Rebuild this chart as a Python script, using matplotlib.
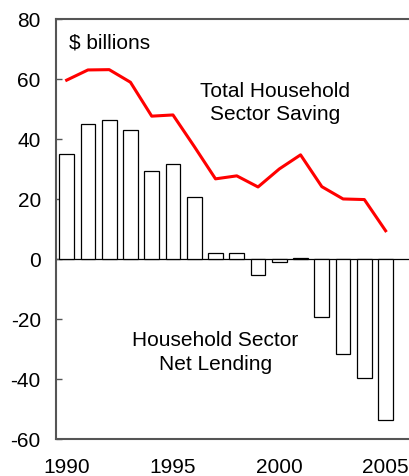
import numpy as np
import matplotlib
matplotlib.use("Agg")
import matplotlib.pyplot as plt

plt.rcParams["font.family"] = ["Liberation Sans", "DejaVu Sans"]
plt.rcParams["axes.unicode_minus"] = False

years = list(range(1990, 2006))
net_lending = [35.0, 45.0, 46.4, 43.1, 29.3, 31.7, 20.6, 1.9, 2.1, -5.3, -1.1, 0.3,
               -19.2, -31.7, -39.8, -53.6]
total_saving = [59.6, 63.0, 63.1, 58.9, 47.6, 48.0, 37.5, 26.7, 27.7, 24.0, 30.0, 34.7,
                24.1, 20.0, 19.8, 9.4]
y_ticks = [-60, -40, -20, 0, 20, 40, 60, 80]
x_ticks = [1990, 1995, 2000, 2005]

fig = plt.figure(figsize=(4.09, 4.77), dpi=100)
ax = fig.add_axes([0.137, 0.0776, 0.863, 0.8806])

ax.bar(years, net_lending, width=0.69, facecolor="white", edgecolor="black", linewidth=0.9, zorder=2)
ax.plot(years, total_saving, color="#ff0000", linewidth=2.2, zorder=3)
ax.axhline(0, color="black", linewidth=0.9, zorder=1)

ax.set_xlim(1989.5, 2006.1)
ax.set_ylim(-60, 80)
ax.set_yticks(y_ticks)
ax.set_xticks(x_ticks)
ax.tick_params(axis="y", direction="in", length=4, width=1, labelsize=15, pad=11, color="#555555")
ax.tick_params(axis="x", length=0, labelsize=15, pad=13)

for side in ["left", "top", "bottom"]:
    ax.spines[side].set_color("#555555")
    ax.spines[side].set_linewidth(1.5)
ax.spines["right"].set_visible(False)

ax.text(1990.1, 72.3, "$ billions", fontsize=15, ha="left", va="center")
ax.text(1999.8, 52.3, "Total Household\nSector Saving", fontsize=15, ha="center", va="center",
        linespacing=1.3)
ax.text(1997.0, -30.8, "Household Sector\nNet Lending", fontsize=15, ha="center", va="center",
        linespacing=1.3)

fig.savefig("out.png", dpi=100)
